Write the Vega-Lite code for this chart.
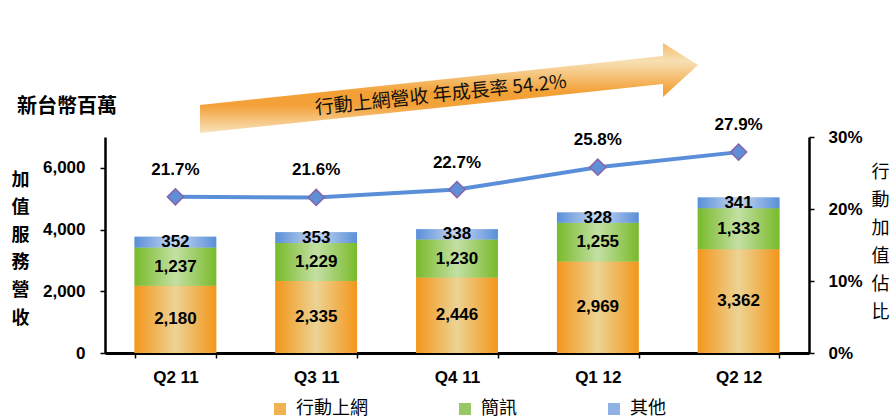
{
  "$schema": "https://vega.github.io/schema/vega-lite/v6.json",
  "width": 704,
  "height": 216,
  "autosize": {"type": "none"},
  "padding": {"left": 105, "top": 137, "right": 86, "bottom": 67},
  "background": "white",
  "config": {
    "view": {"stroke": null},
    "font": "Liberation Sans",
    "axis": {
      "domainColor": "black",
      "domainWidth": 2.5,
      "tickColor": "black",
      "tickWidth": 1.5,
      "tickSize": 5,
      "labelColor": "black",
      "labelFont": "Liberation Sans",
      "labelFontWeight": "bold",
      "labelFontSize": 17,
      "grid": false,
      "titleColor": "black"
    }
  },
  "title": {
    "text": "新台幣百萬",
    "anchor": "start",
    "frame": "group",
    "dx": -88,
    "offset": -74,
    "font": "Noto Sans CJK TC",
    "fontSize": 20,
    "fontWeight": "bold",
    "color": "black"
  },
  "datasets": {
    "rev": [
      {"quarter": "Q2 11", "series": "行動上網", "value": 2180},
      {"quarter": "Q2 11", "series": "簡訊", "value": 1237},
      {"quarter": "Q2 11", "series": "其他", "value": 352},
      {"quarter": "Q3 11", "series": "行動上網", "value": 2335},
      {"quarter": "Q3 11", "series": "簡訊", "value": 1229},
      {"quarter": "Q3 11", "series": "其他", "value": 353},
      {"quarter": "Q4 11", "series": "行動上網", "value": 2446},
      {"quarter": "Q4 11", "series": "簡訊", "value": 1230},
      {"quarter": "Q4 11", "series": "其他", "value": 338},
      {"quarter": "Q1 12", "series": "行動上網", "value": 2969},
      {"quarter": "Q1 12", "series": "簡訊", "value": 1255},
      {"quarter": "Q1 12", "series": "其他", "value": 328},
      {"quarter": "Q2 12", "series": "行動上網", "value": 3362},
      {"quarter": "Q2 12", "series": "簡訊", "value": 1333},
      {"quarter": "Q2 12", "series": "其他", "value": 341}
    ],
    "share": [
      {"quarter": "Q2 11", "pct": 0.217},
      {"quarter": "Q3 11", "pct": 0.216},
      {"quarter": "Q4 11", "pct": 0.227},
      {"quarter": "Q1 12", "pct": 0.258},
      {"quarter": "Q2 12", "pct": 0.279}
    ],
    "arrow": [
      {"px": 13.5, "top": 8037, "bottom": 7130},
      {"px": 79.26, "top": 9625, "bottom": 8718},
      {"px": 79.26, "top": 10046, "bottom": 8296},
      {"px": 84.23, "top": 9333, "bottom": 9333}
    ],
    "note": [
      {"label": "行動上網營收 年成長率 54.2%"}
    ]
  },
  "layer": [
    {
      "layer": [
        {
          "data": {"name": "arrow"},
          "mark": {
            "type": "area",
            "orient": "vertical",
            "clip": false,
            "fill": {
              "gradient": "linear",
              "x1": 0, "y1": 0, "x2": 0, "y2": 1,
              "stops": [
                {"offset": 0, "color": "#F5BC6C"},
                {"offset": 0.2, "color": "#F7E0B4"},
                {"offset": 0.55, "color": "#F3A035"},
                {"offset": 0.7, "color": "#F3A23A"},
                {"offset": 1, "color": "#F8E3BC"}
              ]
            }
          },
          "encoding": {
            "x": {"field": "px", "type": "quantitative", "scale": {"domain": [0, 100], "nice": false, "zero": false}, "axis": null},
            "y": {"field": "top", "type": "quantitative", "scale": {"domain": [0, 7000], "nice": false}, "axis": null},
            "y2": {"field": "bottom"}
          }
        },
        {
          "data": {"name": "note"},
          "mark": {"type": "text", "angle": -6, "font": "Noto Sans CJK TC", "fontSize": 19, "color": "#111111", "align": "center", "baseline": "middle"},
          "encoding": {
            "x": {"datum": 47.7, "type": "quantitative"},
            "y": {"datum": 8362, "type": "quantitative"},
            "text": {"field": "label"}
          }
        }
      ]
    },
    {
      "data": {"name": "rev"},
      "transform": [
        {"stack": "value", "groupby": ["quarter"], "sort": [{"field": "series", "order": "descending"}], "as": ["v0", "v1"]}
      ],
      "encoding": {
        "x": {
          "field": "quarter", "type": "nominal",
          "sort": ["Q2 11", "Q3 11", "Q4 11", "Q1 12", "Q2 12"],
          "scale": {"paddingInner": 0.42, "paddingOuter": 0.21},
          "axis": {"orient": "bottom", "title": null, "labelAngle": 0, "labelPadding": 11, "tickBand": "extent", "domainWidth": 3}
        },
        "y": {
          "field": "v0", "type": "quantitative",
          "scale": {"domain": [0, 7000], "nice": false},
          "axis": {
            "orient": "left",
            "values": [0, 2000, 4000, 6000],
            "format": ",.0f",
            "labelPadding": 15,
            "title": ["加", "值", "服", "務", "營", "收"],
            "titleAngle": 0,
            "titleFont": "Noto Sans CJK TC",
            "titleFontSize": 18,
            "titleFontWeight": "bold",
            "titleLineHeight": 27.6,
            "titleAlign": "center",
            "titleBaseline": "middle",
            "titleX": -85,
            "titleY": 43
          }
        },
        "y2": {"field": "v1"}
      },
      "layer": [
        {
          "mark": {"type": "bar"},
          "encoding": {
            "color": {
              "field": "series", "type": "nominal",
              "scale": {"domain": ["行動上網", "簡訊", "其他"], "range": ["#F1B251", "#98C865", "#8FB1E3"]},
              "legend": {
                "title": null,
                "orient": "none",
                "legendX": 166,
                "legendY": 263,
                "direction": "horizontal",
                "symbolType": "square",
                "symbolSize": 144,
                "symbolStrokeWidth": 0,
                "labelFont": "Noto Sans CJK TC",
                "labelFontSize": 18,
                "labelColor": "black",
                "labelOffset": 7,
                "columnPadding": 88,
                "labelLimit": 200
              }
            }
          }
        },
        {
          "transform": [{"filter": "datum.series === '行動上網'"}],
          "mark": {
            "type": "bar",
            "fill": {"gradient": "linear", "x1": 0, "y1": 0, "x2": 1, "y2": 0,
              "stops": [{"offset": 0, "color": "#F3961A"}, {"offset": 0.5, "color": "#ECD394"}, {"offset": 1, "color": "#F3961A"}]}
          }
        },
        {
          "transform": [{"filter": "datum.series === '簡訊'"}],
          "mark": {
            "type": "bar",
            "fill": {"gradient": "linear", "x1": 0, "y1": 0, "x2": 1, "y2": 0,
              "stops": [{"offset": 0, "color": "#79BA2B"}, {"offset": 0.5, "color": "#C3E0A3"}, {"offset": 1, "color": "#79BA2B"}]}
          }
        },
        {
          "transform": [{"filter": "datum.series === '其他'"}],
          "mark": {
            "type": "bar",
            "fill": {"gradient": "linear", "x1": 0, "y1": 0, "x2": 1, "y2": 0,
              "stops": [{"offset": 0, "color": "#5A8FD8"}, {"offset": 0.5, "color": "#C7D9F1"}, {"offset": 1, "color": "#5A8FD8"}]}
          }
        }
      ]
    },
    {
      "data": {"name": "rev"},
      "mark": {"type": "text", "fontSize": 17, "fontWeight": "bold", "color": "black", "baseline": "middle"},
      "encoding": {
        "x": {
          "field": "quarter", "type": "nominal",
          "sort": ["Q2 11", "Q3 11", "Q4 11", "Q1 12", "Q2 12"],
          "scale": {"paddingInner": 0.42, "paddingOuter": 0.21},
          "axis": null
        },
        "y": {"field": "value", "type": "quantitative", "stack": "zero", "bandPosition": 0.5, "scale": {"domain": [0, 7000], "nice": false}, "axis": null},
        "detail": {"field": "series"},
        "order": {"field": "series", "sort": "descending"},
        "text": {"field": "value", "format": ","}
      }
    },
    {
      "data": {"name": "share"},
      "encoding": {
        "x": {
          "field": "quarter", "type": "nominal",
          "sort": ["Q2 11", "Q3 11", "Q4 11", "Q1 12", "Q2 12"],
          "scale": {"paddingInner": 0.42, "paddingOuter": 0.21},
          "axis": null
        },
        "y": {
          "field": "pct", "type": "quantitative",
          "scale": {"domain": [0, 0.3], "nice": false},
          "axis": {
            "orient": "right",
            "values": [0, 0.1, 0.2, 0.3],
            "format": ".0%",
            "labelPadding": 14,
            "title": ["行", "動", "加", "值", "佔", "比"],
            "titleAngle": 0,
            "titleFont": "Noto Sans CJK TC",
            "titleFontSize": 18,
            "titleFontWeight": "normal",
            "titleLineHeight": 28,
            "titleAlign": "center",
            "titleBaseline": "middle",
            "titleX": 71,
            "titleY": 35
          }
        }
      },
      "layer": [
        {"mark": {"type": "line", "color": "#5B8ED8", "strokeWidth": 4}},
        {"mark": {"type": "point", "shape": "diamond", "filled": true, "size": 260, "fill": "#5F8FD6", "stroke": "#8A63A8", "strokeWidth": 1.5, "opacity": 1}},
        {
          "mark": {"type": "text", "dy": -27, "fontSize": 17, "fontWeight": "bold", "color": "black", "baseline": "middle"},
          "encoding": {"text": {"field": "pct", "format": ".1%"}}
        }
      ]
    }
  ],
  "resolve": {"scale": {"x": "independent", "y": "independent", "color": "independent"}}
}
